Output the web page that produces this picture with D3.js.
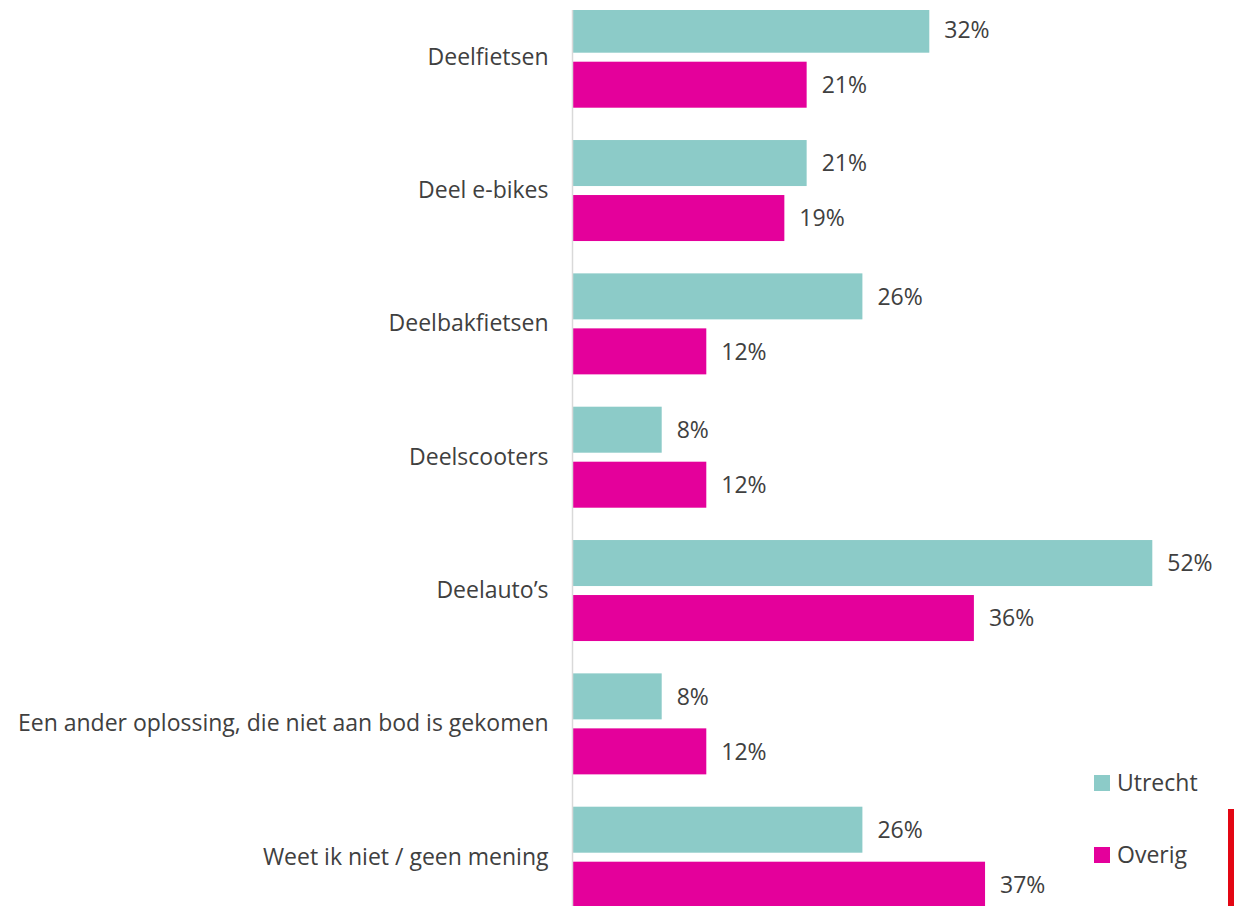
<!DOCTYPE html>
<html>
<head>
<meta charset="utf-8">
<script src="https://cdn.jsdelivr.net/npm/d3@7"></script>
<style>
  html, body { margin: 0; padding: 0; background: #fff; }
  svg { display: block; }
  text { font-family: "Open Sans", "Noto Sans", sans-serif; fill: #404040; }
</style>
</head>
<body>
<svg id="chart" width="1234" height="906"></svg>
<script>
// Shared mobility options: share of respondents (%)
const categories = [
  "Deelfietsen",
  "Deel e-bikes",
  "Deelbakfietsen",
  "Deelscooters",
  "Deelauto\u2019s",
  "Een ander oplossing, die niet aan bod is gekomen",
  "Weet ik niet / geen mening"
];
const seriesNames = ["Utrecht", "Overig"];
const utrecht = [32, 21, 26, 8, 52, 8, 26];
const overig  = [21, 19, 12, 12, 36, 12, 37];

const colors = { Utrecht: "#8ccbc8", Overig: "#e4009b" };

const W = 1234, H = 906;
const FONT = 23;
const svg = d3.select("#chart");

const x0 = 572.5;
const x = d3.scaleLinear().domain([0, 100]).range([x0, x0 + 1115]);

const y = d3.scaleBand()
  .domain(categories)
  .range([6.7, 907.7])
  .paddingInner(0.2425)
  .paddingOuter(0);

const ySub = d3.scaleBand()
  .domain(seriesNames)
  .range([0, y.bandwidth()])
  .paddingInner(0.1636)
  .paddingOuter(0);

const rows = categories.map((c, i) => ({
  category: c,
  values: [
    { series: "Utrecht", value: utrecht[i] },
    { series: "Overig", value: overig[i] }
  ]
}));

// plot area is clipped at the top edge
svg.append("defs").append("clipPath").attr("id", "plotClip")
  .append("rect").attr("x", 0).attr("y", 10).attr("width", W).attr("height", H - 10);

const plot = svg.append("g").attr("clip-path", "url(#plotClip)");

const groups = plot.selectAll("g.group")
  .data(rows)
  .join("g")
  .attr("class", "group")
  .attr("transform", d => `translate(0,${y(d.category)})`);

groups.selectAll("rect")
  .data(d => d.values)
  .join("rect")
  .attr("x", x(0))
  .attr("y", d => ySub(d.series))
  .attr("width", d => x(d.value) - x(0))
  .attr("height", ySub.bandwidth())
  .attr("fill", d => colors[d.series]);

groups.selectAll("text.value")
  .data(d => d.values)
  .join("text")
  .attr("class", "value")
  .attr("x", d => x(d.value) + 15)
  .attr("y", d => ySub(d.series) + ySub.bandwidth() / 2)
  .attr("dy", "0.36em")
  .attr("font-size", FONT)
  .text(d => d.value + "%");

// category axis
const yAxis = d3.axisLeft(y).tickSize(0).tickPadding(24);
const axisG = plot.append("g")
  .attr("transform", `translate(${x0},0)`)
  .call(yAxis);
axisG.select(".domain").remove();
axisG.selectAll("text")
  .attr("font-size", FONT)
  .attr("fill", "#404040")
  .style("font-family", "\"Open Sans\", \"Noto Sans\", sans-serif");

plot.append("line")
  .attr("x1", x0).attr("x2", x0)
  .attr("y1", 0).attr("y2", H)
  .attr("stroke", "#d9d9d9")
  .attr("stroke-width", 1.5);

// legend
const legend = svg.append("g").attr("transform", "translate(1094,775)");
const legendItems = legend.selectAll("g")
  .data(seriesNames)
  .join("g")
  .attr("transform", (d, i) => `translate(0,${i * 72})`);
legendItems.append("rect")
  .attr("width", 16).attr("height", 16)
  .attr("fill", d => colors[d]);
legendItems.append("text")
  .attr("x", 23)
  .attr("y", 8)
  .attr("dy", "0.36em")
  .attr("font-size", FONT)
  .text(d => d);

// red edge marker
svg.append("rect")
  .attr("x", 1228).attr("y", 809)
  .attr("width", 6).attr("height", H - 809)
  .attr("fill", "#e30613");
</script>
</body>
</html>
